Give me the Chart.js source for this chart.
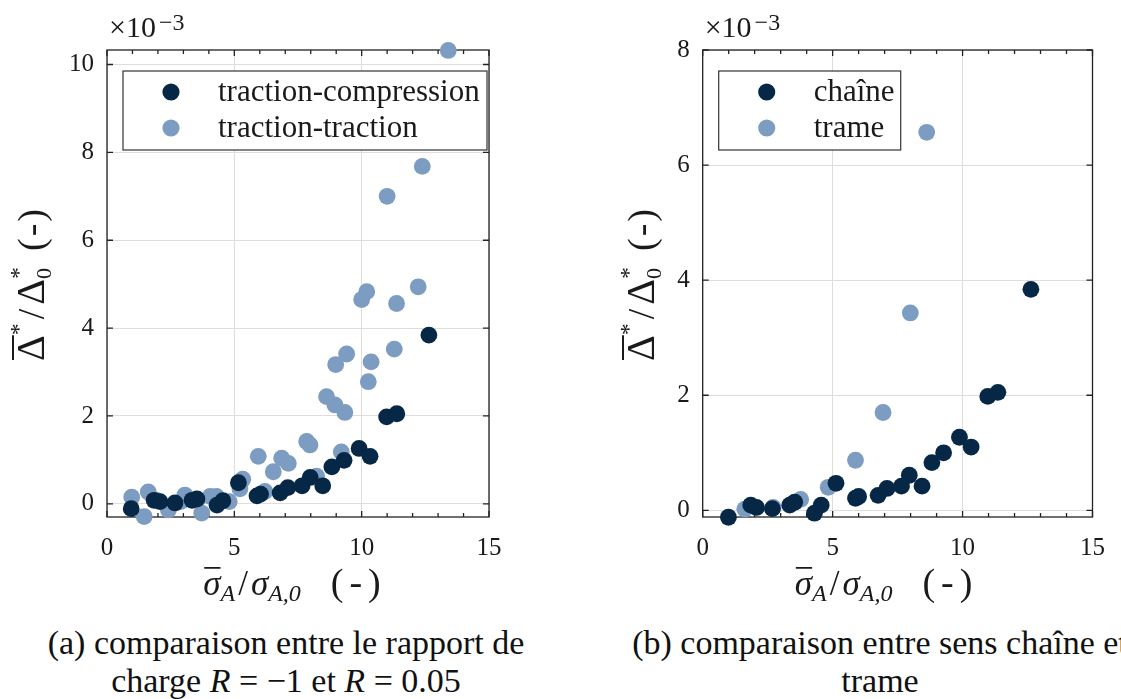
<!DOCTYPE html>
<html>
<head>
<meta charset="utf-8">
<script src="https://cdn.jsdelivr.net/npm/chart.js@4.4.0/dist/chart.umd.min.js"></script>
<style>
body { margin: 0; width: 1121px; height: 699px; background: #fff; overflow: hidden; position: relative; font-family: "Liberation Serif", serif; }
.box { position: absolute; top: 0; height: 620px; }
.cap { position: absolute; top: 624px; font-size: 34px; line-height: 38px; text-align: center; white-space: nowrap; color: #111; }
</style>
</head>
<body>
<div class="box" style="left:0;width:560px"><canvas id="chartA"></canvas></div>
<div class="box" style="left:560px;width:561px"><canvas id="chartB"></canvas></div>
<div class="cap" style="left:0;width:572px">(a) comparaison entre le rapport de<br>charge <i>R</i> = −1 et <i>R</i> = 0.05</div>
<div class="cap" style="left:580px;width:600px">(b) comparaison entre sens chaîne et<br>trame</div>
<script>
// values of Δ̄*/Δ0* are in units of 1e-3
const xTicks = [0, 5, 10, 15];
const yTicksA = [0, 2, 4, 6, 8, 10];
const yTicksB = [0, 2, 4, 6, 8];

// (a) traction-compression (R = -1)
const tcX = [0.95, 1.85, 2.08, 2.67, 3.34, 3.53, 4.32, 4.55, 5.16, 5.89, 6.03, 6.8, 7.1, 7.66, 7.98, 8.47, 8.83, 9.31, 9.9, 10.33, 10.98, 11.38, 12.64];
const tcY = [-0.11, 0.08, 0.05, 0.02, 0.08, 0.11, -0.03, 0.07, 0.48, 0.18, 0.22, 0.25, 0.37, 0.41, 0.6, 0.41, 0.84, 0.99, 1.26, 1.08, 1.98, 2.05, 3.84];
// (a) traction-traction (R = 0.05)
const ttX = [0.97, 1.46, 1.62, 1.95, 2.41, 2.9, 3.06, 3.55, 3.72, 4.05, 4.3, 4.8, 5.22, 5.33, 5.94, 6.2, 6.53, 6.86, 7.12, 7.84, 7.97, 8.23, 8.62, 8.95, 9.2, 9.34, 8.98, 9.41, 10.0, 10.2, 10.26, 10.37, 11.0, 11.28, 11.37, 12.22, 12.38, 13.4];
const ttY = [0.15, -0.29, 0.27, 0.08, -0.14, 0.05, 0.2, 0.1, -0.21, 0.17, 0.17, 0.05, 0.34, 0.56, 1.08, 0.28, 0.73, 1.04, 0.92, 1.42, 1.34, 0.63, 2.44, 2.25, 1.18, 2.08, 3.17, 3.41, 4.65, 4.83, 2.78, 3.23, 7.0, 3.52, 4.56, 4.94, 7.68, 10.32];

// (b) chaîne
const chX = [0.99, 1.85, 2.07, 2.68, 3.35, 3.54, 4.3, 4.56, 5.13, 5.88, 6.0, 6.75, 7.09, 7.65, 7.95, 8.44, 8.82, 9.27, 9.88, 10.33, 10.97, 11.36, 12.63];
const chY = [-0.12, 0.09, 0.05, 0.03, 0.09, 0.14, -0.05, 0.09, 0.47, 0.21, 0.24, 0.26, 0.38, 0.42, 0.61, 0.42, 0.83, 1.0, 1.27, 1.1, 1.98, 2.05, 3.84];
// (b) trame
const trX = [1.62, 2.71, 3.77, 4.83, 5.88, 6.94, 7.99, 8.62];
const trY = [0.02, 0.05, 0.19, 0.40, 0.87, 1.70, 3.43, 6.57];

const DARK = '#062846';
const LIGHT = '#7d9cc2';
const INK = '#1a1a1a';
const FONT = '"Liberation Serif", serif';

function pts(xs, ys) { return xs.map((x, i) => ({x: x, y: ys[i]})); }

function fontOf(s) { return (s.it ? 'italic ' : '') + s.size + 'px ' + FONT; }

// draws a run of text pieces (sub/superscripts, overlines) centred on x
function drawRich(ctx, segs, x, y) {
  const starts = [], widths = [];
  let pos = 0;
  segs.forEach((s, i) => {
    ctx.font = fontOf(s);
    const w = ctx.measureText(s.t).width;
    let st;
    if (s.back) { st = starts[i - 1]; pos = Math.max(pos, st + w); }
    else { st = pos + (s.gap || 0); pos = st + w; }
    starts.push(st); widths.push(w);
  });
  const x0 = x - pos / 2;
  segs.forEach((s, i) => {
    ctx.font = fontOf(s);
    ctx.fillText(s.t, x0 + starts[i], y + (s.dy || 0));
    if (s.ov) {
      ctx.fillRect(x0 + starts[i] + 1, y - s.size * 0.8, widths[i] - 1, Math.max(1.5, s.size * 0.05));
    }
  });
}

const yTitle = [
  {t: 'Δ', size: 40, ov: true},
  {t: '*', size: 24, dy: -18},
  {t: '/', size: 38, gap: 4},
  {t: 'Δ', size: 40, gap: 4},
  {t: '*', size: 24, dy: -18},
  {t: '0', size: 22, dy: 7, back: true},
  {t: '(', size: 38, gap: 16},
  {t: '-', size: 38, gap: 2},
  {t: ')', size: 38, gap: 2}
];
const xTitle = [
  {t: 'σ', size: 35, it: true, ov: true},
  {t: 'A', size: 24, it: true, dy: 6},
  {t: '/', size: 35, gap: 3},
  {t: 'σ', size: 35, it: true, gap: 3},
  {t: 'A,0', size: 24, it: true, dy: 6},
  {t: '(', size: 38, gap: 30},
  {t: '-', size: 38, gap: 6},
  {t: ')', size: 38, gap: 6}
];

const framePlugin = {
  id: 'frame',
  beforeDatasetsDraw(chart, args, o) {
    const {ctx, chartArea: a, scales: {x, y}} = chart;
    ctx.save();
    ctx.strokeStyle = '#222';
    ctx.lineWidth = 1.3;
    ctx.beginPath();
    for (let v = 0; v <= 15; v++) {
      const px = x.getPixelForValue(v), len = v % 5 === 0 ? 6 : 4;
      ctx.moveTo(px, a.bottom); ctx.lineTo(px, a.bottom - len);
      ctx.moveTo(px, a.top); ctx.lineTo(px, a.top + len);
    }
    o.yTicks.forEach(v => {
      const py = y.getPixelForValue(v);
      ctx.moveTo(a.left, py); ctx.lineTo(a.left + 6, py);
      ctx.moveTo(a.right, py); ctx.lineTo(a.right - 6, py);
    });
    ctx.stroke();
    ctx.strokeRect(a.left, a.top, a.right - a.left, a.bottom - a.top);
    ctx.restore();
  },
  afterDraw(chart, args, o) {
    const {ctx, chartArea: a} = chart;
    ctx.save();
    ctx.fillStyle = INK;
    ctx.textBaseline = 'alphabetic';
    ctx.textAlign = 'left';
    // exponent
    ctx.font = '30px ' + FONT;
    ctx.fillText('×10', a.left + 2, a.top - 13);
    const w = ctx.measureText('×10').width;
    ctx.font = '24px ' + FONT;
    ctx.fillText('−3', a.left + 5 + w, a.top - 20);
    // axis titles
    drawRich(ctx, xTitle, (a.left + a.right) / 2 + o.xTitleShift, 595);
    ctx.save();
    ctx.translate(o.yTitleX, 285);
    ctx.rotate(-Math.PI / 2);
    drawRich(ctx, yTitle, 0, 13);
    ctx.restore();
    // legend box
    const bx = a.left + 16, by = a.top + 21, bh = 79;
    ctx.fillStyle = '#fff';
    ctx.fillRect(bx, by, o.legendW, bh);
    ctx.strokeStyle = '#333';
    ctx.lineWidth = 1.2;
    ctx.strokeRect(bx, by, o.legendW, bh);
    chart.data.datasets.forEach((d, i) => {
      const cy = by + 21 + i * 36;
      ctx.fillStyle = d.backgroundColor;
      ctx.beginPath();
      ctx.arc(bx + 48, cy, 8.6, 0, Math.PI * 2);
      ctx.fill();
      ctx.fillStyle = INK;
      ctx.font = '31px ' + FONT;
      ctx.fillText(d.label, bx + 95, cy + 9);
    });
    ctx.restore();
  }
};

function makeChart(id, sets, yMin, yMax, yTicks, opts) {
  return new Chart(document.getElementById(id), {
    type: 'scatter',
    data: {
      datasets: sets.map(s => ({
        label: s.label,
        data: pts(s.x, s.y),
        backgroundColor: s.color,
        borderWidth: 0,
        pointRadius: 8.4,
        pointHoverRadius: 8.4,
        clip: false
      }))
    },
    options: {
      responsive: true,
      maintainAspectRatio: false,
      animation: false,
      events: [],
      layout: {padding: {top: 50, right: opts.padRight, left: 0, bottom: 0}},
      plugins: {legend: {display: false}, tooltip: {enabled: false}, frame: opts},
      scales: {
        x: {
          type: 'linear', min: 0, max: 15,
          afterBuildTicks: s => { s.ticks = xTicks.map(v => ({value: v})); },
          afterFit: s => { s.height = 103; },
          grid: {color: '#dddddd', lineWidth: 1, drawTicks: false},
          border: {display: false},
          ticks: {color: INK, font: {family: FONT, size: 25}, padding: 16}
        },
        y: {
          type: 'linear', min: yMin, max: yMax,
          afterBuildTicks: s => { s.ticks = yTicks.map(v => ({value: v})); },
          afterFit: s => { s.width = opts.yWidth; },
          grid: {color: '#dddddd', lineWidth: 1, drawTicks: false},
          border: {display: false},
          ticks: {color: INK, font: {family: FONT, size: 25}, padding: 13}
        }
      }
    },
    plugins: [framePlugin]
  });
}

makeChart('chartA', [
  {label: 'traction-compression', x: tcX, y: tcY, color: DARK},
  {label: 'traction-traction', x: ttX, y: ttY, color: LIGHT}
], -0.3, 10.33, yTicksA, {yTicks: yTicksA, padRight: 71, yWidth: 107, legendW: 364, yTitleX: 31, xTitleShift: -6});

makeChart('chartB', [
  {label: 'chaîne', x: chX, y: chY, color: DARK},
  {label: 'trame', x: trX, y: trY, color: LIGHT}
], -0.116, 8, yTicksB, {yTicks: yTicksB, padRight: 19.3, yWidth: 142.7, legendW: 182, yTitleX: 81, xTitleShift: -14});
</script>
</body>
</html>
